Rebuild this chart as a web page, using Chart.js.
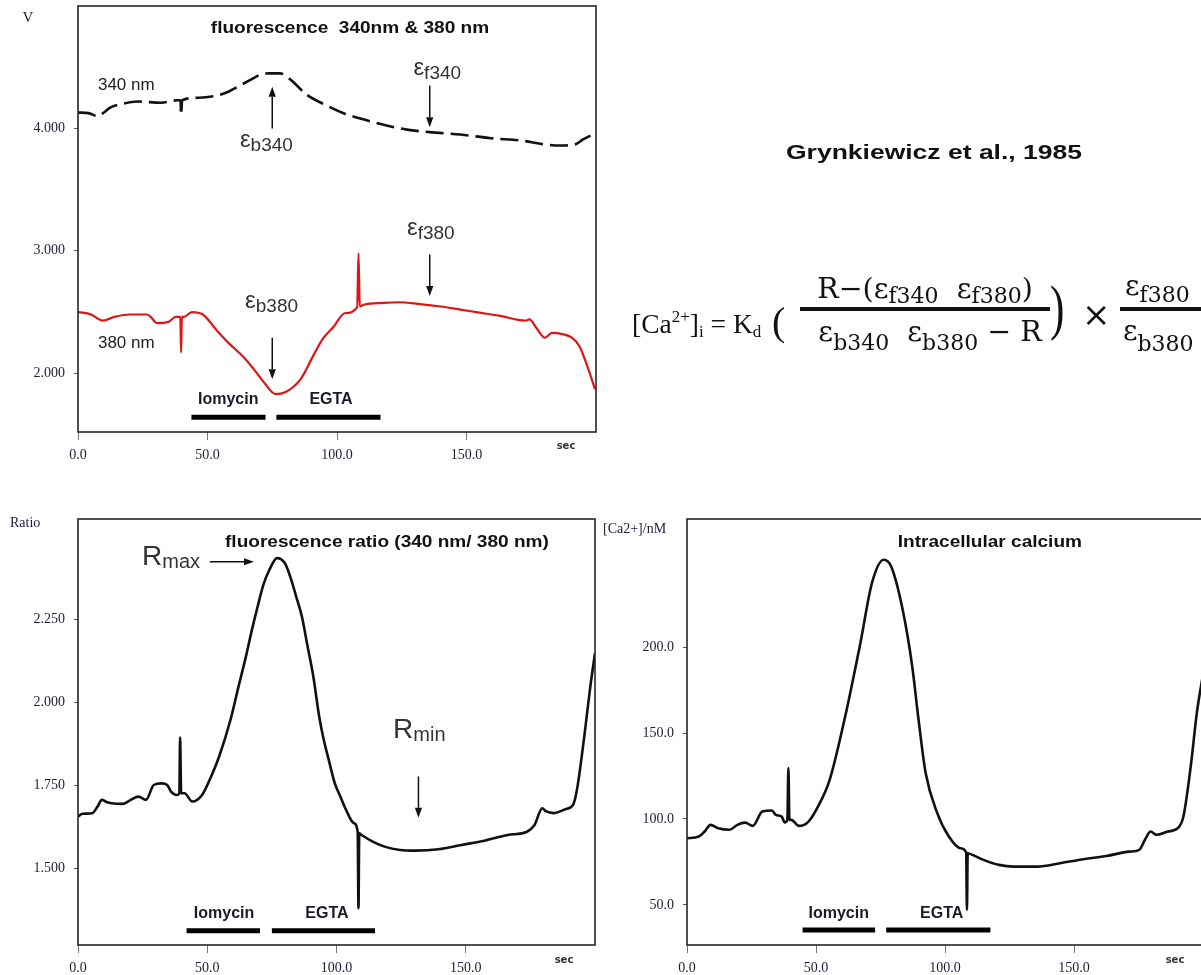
<!DOCTYPE html>
<html>
<head>
<meta charset="utf-8">
<script src="https://cdn.jsdelivr.net/npm/chart.js@4.4.1/dist/chart.umd.min.js"></script>
<style>
  html, body { margin:0; padding:0; background:#fff; }
  body { width:1201px; height:975px; overflow:hidden; position:relative; }
  .box { position:absolute; }
  svg { position:absolute; left:0; top:0; }
</style>
</head>
<body>
<div class="box" style="left:0;top:0;width:600px;height:470px"><canvas id="c1"></canvas></div>
<div class="box" style="left:0;top:475px;width:600px;height:500px"><canvas id="c2"></canvas></div>
<div class="box" style="left:600px;top:475px;width:605px;height:500px"><canvas id="c3"></canvas></div>

<svg width="1201" height="975" viewBox="0 0 1201 975">
  <text x="786" y="159" font-family="Liberation Sans, Arial, sans-serif" font-weight="bold" font-size="21" textLength="296" lengthAdjust="spacingAndGlyphs" fill="#111">Grynkiewicz et al., 1985</text>
  <g fill="#111">
    <text x="632" y="333" font-family="Liberation Serif, serif" font-size="27.5">[Ca<tspan font-size="17" dy="-11">2+</tspan><tspan dy="11">]</tspan><tspan font-size="17" dy="4">i</tspan><tspan dy="-4">&#160;=&#160;K</tspan><tspan font-size="17" dy="4">d</tspan></text>
    <text x="772" y="335" font-family="Liberation Serif, serif" font-size="40">(</text>
    <text x="925" y="298" text-anchor="middle" font-family="DejaVu Serif, serif" font-size="28.5">R−(ε<tspan font-size="22" dy="5">f340</tspan><tspan dy="-5">&#160;&#160;ε</tspan><tspan font-size="22" dy="5">f380</tspan><tspan dy="-5">)</tspan></text>
    <rect x="800" y="307" width="250" height="4"></rect>
    <text x="930" y="341" text-anchor="middle" font-family="DejaVu Serif, serif" font-size="28.5">ε<tspan font-size="22" dy="9">b340</tspan><tspan dy="-9">&#160;&#160;ε</tspan><tspan font-size="22" dy="9">b380</tspan><tspan dy="-9">&#160;−&#160;R</tspan></text>
    <text transform="translate(1050,328) scale(0.7,1)" font-family="Liberation Serif, serif" font-size="62">)</text>
    <text x="1082" y="326" font-family="DejaVu Serif, serif" font-size="34">×</text>
    <text x="1125" y="295" font-family="DejaVu Serif, serif" font-size="28">ε<tspan font-size="22" dy="7">f380</tspan></text>
    <rect x="1120" y="307" width="85" height="4"></rect>
    <text x="1123" y="340" font-family="DejaVu Serif, serif" font-size="28">ε<tspan font-size="22" dy="11">b380</tspan></text>
  </g>
</svg>

<script>
// ---------------- data ----------------
const xTicks = [0, 50, 100, 150];
const xTickLabels = ['0.0', '50.0', '100.0', '150.0'];

const yTicksV = [2, 3, 4];
const yTickLabelsV = ['2.000', '3.000', '4.000'];
const yTicksRatio = [1.5, 1.75, 2.0, 2.25];
const yTickLabelsRatio = ['1.500', '1.750', '2.000', '2.250'];
const yTicksCa = [50, 100, 150, 200];
const yTickLabelsCa = ['50.0', '100.0', '150.0', '200.0'];

// 340 nm fluorescence (V)
const time340 = [0, 4, 7.8, 10, 12.4, 17, 23, 32, 38.5, 39.6, 39.8, 40.2, 46.7, 54, 58, 61.6, 66, 70.5, 74, 78, 82, 88, 95.7, 103, 109, 118, 127, 135.8, 147.6, 159.5, 171.4, 180, 186, 192, 195, 199.6];
const v340 = [4.13, 4.125, 4.10, 4.13, 4.17, 4.20, 4.22, 4.21, 4.23, 4.23, 4.11, 4.23, 4.25, 4.27, 4.30, 4.34, 4.39, 4.44, 4.45, 4.45, 4.40, 4.28, 4.19, 4.12, 4.08, 4.03, 3.99, 3.97, 3.95, 3.92, 3.90, 3.87, 3.86, 3.87, 3.91, 3.96];

// 380 nm fluorescence (V)
const time380 = [0, 5, 9.6, 14, 20, 26.7, 28.5, 30.4, 34.9, 37.8, 39.5, 39.8, 40.1, 40.8, 44, 48.2, 53.6, 58, 63.8, 68, 72, 76.2, 80, 85.9, 91, 94.5, 98.7, 103, 107.8, 108.3, 108.8, 110.3, 118, 124, 132, 140, 147.6, 155, 162.5, 172.8, 174.3, 177, 180.3, 183, 187, 190.7, 193.6, 196.6, 199.6];
const v380 = [2.50, 2.48, 2.43, 2.46, 2.48, 2.48, 2.45, 2.41, 2.42, 2.46, 2.46, 2.17, 2.46, 2.46, 2.50, 2.48, 2.35, 2.25, 2.135, 2.03, 1.92, 1.83, 1.845, 1.95, 2.15, 2.28, 2.38, 2.49, 2.54, 2.98, 2.545, 2.56, 2.575, 2.58, 2.565, 2.545, 2.52, 2.495, 2.47, 2.43, 2.44, 2.37, 2.29, 2.33, 2.32, 2.29, 2.22, 2.06, 1.87];

// ratio 340/380
const timeRatio = [0, 1.8, 5.5, 7.5, 9.2, 11, 13, 17.4, 20.4, 23.4, 26.3, 29.3, 32.3, 34.5, 36, 38.2, 39.2, 39.5, 39.9, 41.2, 44.2, 48, 50.9, 54.6, 59, 62, 65, 67.3, 69.5, 71.7, 74, 77, 80, 82.1, 84.4, 86.6, 88.8, 91, 93.3, 95, 97, 99.3, 101.5, 103.7, 106.7, 108.2, 108.5, 108.8, 109.7, 114, 118.6, 124.6, 130.5, 139.4, 148.4, 157.3, 166.2, 173.7, 176.6, 179.6, 181, 184, 188.5, 191.5, 193, 196, 198.2, 200];
const vRatio = [1.656, 1.664, 1.666, 1.685, 1.706, 1.700, 1.696, 1.694, 1.706, 1.716, 1.706, 1.751, 1.756, 1.751, 1.731, 1.721, 1.725, 1.895, 1.726, 1.726, 1.701, 1.721, 1.766, 1.837, 1.948, 2.045, 2.14, 2.22, 2.29, 2.355, 2.40, 2.436, 2.421, 2.38, 2.32, 2.26, 2.17, 2.08, 1.958, 1.89, 1.827, 1.757, 1.716, 1.676, 1.636, 1.61, 1.379, 1.605, 1.60, 1.58, 1.565, 1.555, 1.553, 1.557, 1.57, 1.583, 1.60, 1.61, 1.63, 1.681, 1.672, 1.666, 1.678, 1.691, 1.736, 1.907, 2.049, 2.149];

// intracellular calcium (nM)
const timeCa = [0, 4.6, 7, 9.1, 12.1, 16.5, 19.5, 22.5, 25.5, 29.2, 32.9, 34.4, 36.7, 37.9, 38.9, 39.3, 39.7, 40.4, 43.4, 47.1, 50.8, 55.3, 61.3, 67.2, 71.7, 76.2, 79.1, 83.6, 87.3, 89.6, 92.5, 97, 101.5, 106, 108.2, 108.5, 108.8, 109.7, 114.9, 120.9, 126.8, 135.8, 144.7, 153.7, 162.6, 171.5, 175.3, 177.5, 179.7, 182, 186.4, 190.2, 192.4, 195.4, 197.6, 200];
const vCa = [88.8, 89.8, 93, 96.6, 94.6, 93.7, 96.6, 97.9, 96, 104.3, 104.9, 102.4, 101.4, 98, 99.5, 129.6, 99.5, 99.5, 96, 98.5, 107.3, 122.8, 159.6, 202.3, 237.3, 250.8, 247, 221.7, 188.7, 159.6, 126.7, 103.4, 89.8, 83, 80.5, 47.1, 80, 79.7, 76.2, 73.3, 72.3, 72.3, 74.3, 76.6, 78.5, 81, 82, 87.9, 92.7, 90.8, 92.7, 94.6, 101.4, 132.5, 161.6, 184];

// treatment bars (start, end in sec) and level on each chart's y scale
const ionoBarV = [43.8, 72.4], egtaBarV = [76.6, 116.8], barLevelV = 1.64;
const ionoBarR = [42, 70.4], egtaBarR = [75, 114.9], barLevelR = 1.311;
const ionoBarCa = [44.8, 72.9], egtaBarCa = [77.2, 117.6], barLevelCa = 35.4;

// ---------------- helpers ----------------
const SANS = '"Liberation Sans", Arial, sans-serif';
const SERIF = '"Liberation Serif", "Times New Roman", serif';
const pts = (ts, vs) => ts.map((t, i) => ({ x: t, y: vs[i] }));
const bar = (span, lvl) => ({
  data: [{ x: span[0], y: lvl }, { x: span[1], y: lvl }],
  borderColor: '#000', borderWidth: 5, borderCapStyle: 'butt', pointRadius: 0, tension: 0
});
const curve = (ts, vs, color, width, dash) => ({
  data: pts(ts, vs), borderColor: color, borderWidth: width, borderDash: dash || [],
  pointRadius: 0, cubicInterpolationMode: 'monotone', borderJoinStyle: 'round'
});

function drawParts(ctx, px, py, t) {
  ctx.textBaseline = 'alphabetic';
  ctx.textAlign = 'left';
  let total = 0;
  for (const p of t.parts) { ctx.font = p.font; total += ctx.measureText(p.s).width; }
  const sx = t.sx || 1;
  const x0 = t.align === 'center' ? px - total * sx / 2 : px;
  ctx.save();
  ctx.translate(x0, py);
  ctx.scale(sx, 1);
  let cx = 0;
  for (const p of t.parts) {
    ctx.font = p.font;
    ctx.fillStyle = p.color || t.color || '#222';
    ctx.fillText(p.s, cx, p.dy || 0);
    cx += ctx.measureText(p.s).width;
  }
  ctx.restore();
}

function drawArrow(ctx, x1, y1, x2, y2) {
  const ang = Math.atan2(y2 - y1, x2 - x1);
  const hl = 10, hw = 3.6;
  const bx = x2 - hl * Math.cos(ang), by = y2 - hl * Math.sin(ang);
  ctx.strokeStyle = '#111'; ctx.fillStyle = '#111'; ctx.lineWidth = 1.5;
  ctx.beginPath(); ctx.moveTo(x1, y1); ctx.lineTo(bx, by); ctx.stroke();
  ctx.beginPath();
  ctx.moveTo(x2, y2);
  ctx.lineTo(bx + hw * Math.sin(ang), by - hw * Math.cos(ang));
  ctx.lineTo(bx - hw * Math.sin(ang), by + hw * Math.cos(ang));
  ctx.closePath(); ctx.fill();
}

const annotPlugin = {
  id: 'annot',
  afterDatasetsDraw(chart, args, opts) {
    const { ctx, chartArea: a, scales: { x, y } } = chart;
    ctx.save();
    ctx.strokeStyle = '#262626'; ctx.lineWidth = 1.6;
    ctx.strokeRect(a.left, a.top, a.right - a.left, a.bottom - a.top);
    for (const ar of (opts.arrows || [])) {
      drawArrow(ctx, x.getPixelForValue(ar.from[0]), y.getPixelForValue(ar.from[1]),
                     x.getPixelForValue(ar.to[0]), y.getPixelForValue(ar.to[1]));
    }
    for (const t of (opts.texts || [])) {
      drawParts(ctx, x.getPixelForValue(t.x), y.getPixelForValue(t.y), t);
    }
    for (const t of (opts.pixTexts || [])) {
      drawParts(ctx, t.px, t.py, t);
    }
    ctx.restore();
  }
};
Chart.register(annotPlugin);

function makeChart(id, cfg) {
  return new Chart(document.getElementById(id), {
    type: 'line',
    data: { datasets: cfg.datasets },
    options: {
      responsive: true, maintainAspectRatio: false, animation: false, devicePixelRatio: 1,
      layout: { padding: cfg.padding },
      plugins: { legend: { display: false }, tooltip: { enabled: false }, annot: cfg.annot },
      scales: {
        x: {
          type: 'linear', min: 0, max: 200,
          afterBuildTicks: s => { s.ticks = xTicks.map(v => ({ value: v })); },
          afterFit: s => { s.height = cfg.xHeight; s.paddingLeft = 0; s.paddingRight = 0; },
          ticks: { callback: (v, i) => xTickLabels[i], font: { family: SERIF, size: 14 }, color: '#1c1c3c', padding: 7, maxRotation: 0, autoSkip: false },
          grid: { display: true, drawOnChartArea: false, drawTicks: true, tickLength: 8, color: '#777', lineWidth: 1 },
          border: { display: false }
        },
        y: {
          type: 'linear', min: cfg.yMin, max: cfg.yMax,
          afterBuildTicks: s => { s.ticks = cfg.yTicks.map(v => ({ value: v })); },
          afterFit: s => { s.width = cfg.yWidth; s.paddingTop = 0; s.paddingBottom = 0; },
          ticks: { callback: (v, i) => cfg.yTickLabels[i], font: { family: SERIF, size: 14 }, color: '#1c1c3c', padding: 9, autoSkip: false },
          grid: { display: true, drawOnChartArea: false, drawTicks: true, tickLength: 4, color: '#555', lineWidth: 1 },
          border: { display: false }
        }
      }
    }
  });
}

const eps = (sub, big, small, dy) => [
  { s: 'ε', font: big + 'px ' + SANS, color: '#333' },
  { s: sub, font: small + 'px ' + SANS, dy: dy, color: '#333' }
];
const bold = (sz) => 'bold ' + sz + 'px ' + SANS;

// -------- Chart 1: fluorescence 340 & 380 --------
makeChart('c1', {
  datasets: [
    curve(time340, v340, '#111', 2.6, [18, 7]),
    curve(time380, v380, '#dd1515', 2.2),
    bar(ionoBarV, barLevelV), bar(egtaBarV, barLevelV)
  ],
  yMin: 1.52, yMax: 5.0, yTicks: yTicksV, yTickLabels: yTickLabelsV,
  yWidth: 78, xHeight: 38, padding: { top: 6, right: 4, left: 0, bottom: 0 },
  annot: {
    arrows: [
      { from: [75, 4.0], to: [75, 4.34] },
      { from: [135.8, 4.35], to: [135.8, 4.01] },
      { from: [135.8, 2.97], to: [135.8, 2.63] },
      { from: [75, 2.29], to: [75, 1.95] }
    ],
    texts: [
      { x: 105, y: 4.78, align: 'center', sx: 1.12, parts: [{ s: 'fluorescence  340nm & 380 nm', font: bold(17), color: '#111' }] },
      { x: 7.7, y: 4.311, parts: [{ s: '340 nm', font: '17px ' + SANS, color: '#222' }] },
      { x: 7.7, y: 2.207, parts: [{ s: '380 nm', font: '17px ' + SANS, color: '#222' }] },
      { x: 62.5, y: 3.85, parts: eps('b340', 24, 19, 4) },
      { x: 129.5, y: 4.439, parts: eps('f340', 24, 19, 4) },
      { x: 127, y: 3.13, parts: eps('f380', 24, 19, 4) },
      { x: 64.5, y: 2.534, parts: eps('b380', 24, 19, 4) },
      { x: 58, y: 1.749, align: 'center', parts: [{ s: 'Iomycin', font: bold(16), color: '#1a1a2a' }] },
      { x: 97.7, y: 1.749, align: 'center', parts: [{ s: 'EGTA', font: bold(16), color: '#1a1a2a' }] }
    ],
    pixTexts: [
      { px: 28, py: 22, align: 'center', parts: [{ s: 'V', font: '15px ' + SERIF, color: '#1c1c3c' }] },
      { px: 566, py: 449, align: 'center', parts: [{ s: 'sec', font: 'bold 10px "DejaVu Sans", sans-serif', color: '#333' }] }
    ]
  }
});

// -------- Chart 2: ratio --------
makeChart('c2', {
  datasets: [
    curve(timeRatio, vRatio, '#111', 2.6),
    bar(ionoBarR, barLevelR), bar(egtaBarR, barLevelR)
  ],
  yMin: 1.268, yMax: 2.554, yTicks: yTicksRatio, yTickLabels: yTickLabelsRatio,
  yWidth: 78, xHeight: 30, padding: { top: 44, right: 5, left: 0, bottom: 0 },
  annot: {
    arrows: [
      { from: [51, 2.425], to: [68.1, 2.425] },
      { from: [131.7, 1.777], to: [131.7, 1.652] }
    ],
    texts: [
      { x: 119.5, y: 2.47, align: 'center', sx: 1.12, parts: [{ s: 'fluorescence ratio (340 nm/ 380 nm)', font: bold(17), color: '#111' }] },
      { x: 24.8, y: 2.416, parts: [{ s: 'R', font: '28px ' + SANS, color: '#333' }, { s: 'max', font: '20px ' + SANS, dy: 3, color: '#333' }] },
      { x: 121.9, y: 1.894, parts: [{ s: 'R', font: '28px ' + SANS, color: '#333' }, { s: 'min', font: '20px ' + SANS, dy: 3, color: '#333' }] },
      { x: 56.5, y: 1.35, align: 'center', parts: [{ s: 'Iomycin', font: bold(16), color: '#1a1a2a' }] },
      { x: 96.3, y: 1.35, align: 'center', parts: [{ s: 'EGTA', font: bold(16), color: '#1a1a2a' }] }
    ],
    pixTexts: [
      { px: 10, py: 52, parts: [{ s: 'Ratio', font: '14px ' + SERIF, color: '#1c1c3c' }] },
      { px: 564, py: 488, align: 'center', parts: [{ s: 'sec', font: 'bold 10px "DejaVu Sans", sans-serif', color: '#333' }] }
    ]
  }
});

// -------- Chart 3: intracellular calcium --------
makeChart('c3', {
  datasets: [
    curve(timeCa, vCa, '#111', 2.6),
    bar(ionoBarCa, barLevelCa), bar(egtaBarCa, barLevelCa)
  ],
  yMin: 26.7, yMax: 274.5, yTicks: yTicksCa, yTickLabels: yTickLabelsCa,
  yWidth: 87, xHeight: 30, padding: { top: 44, right: 2, left: 0, bottom: 0 },
  annot: {
    texts: [
      { x: 117.4, y: 258.4, align: 'center', sx: 1.12, parts: [{ s: 'Intracellular calcium', font: bold(17), color: '#111' }] },
      { x: 58.8, y: 42.4, align: 'center', parts: [{ s: 'Iomycin', font: bold(16), color: '#1a1a2a' }] },
      { x: 98.7, y: 42.4, align: 'center', parts: [{ s: 'EGTA', font: bold(16), color: '#1a1a2a' }] }
    ],
    pixTexts: [
      { px: 3, py: 58, parts: [{ s: '[Ca2+]/nM', font: '14px ' + SERIF, color: '#1c1c3c' }] },
      { px: 575, py: 488, align: 'center', parts: [{ s: 'sec', font: 'bold 10px "DejaVu Sans", sans-serif', color: '#333' }] }
    ]
  }
});
</script>
</body>
</html>
